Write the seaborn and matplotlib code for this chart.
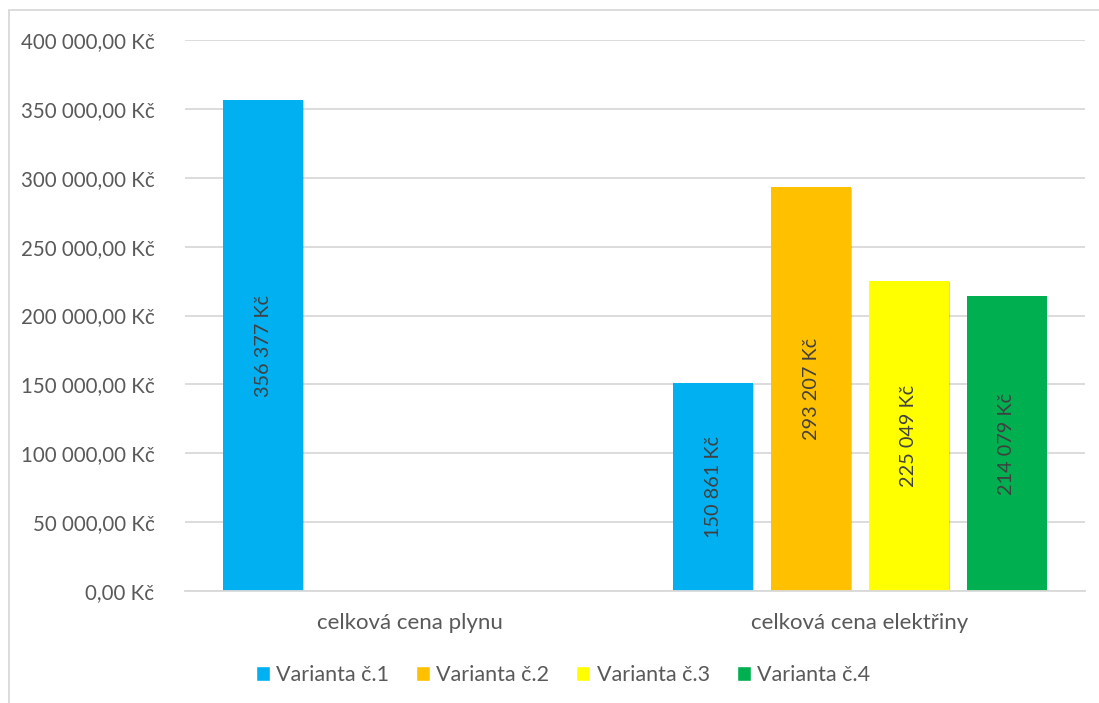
import matplotlib
matplotlib.use("Agg")
import matplotlib.pyplot as plt
import matplotlib.patheffects as pe
from matplotlib.patches import Rectangle, Patch
from matplotlib.ticker import FuncFormatter
import seaborn as sns
import pandas as pd

categories = ["celková cena plynu", "celková cena elektřiny"]
variants = ["Varianta č.1", "Varianta č.2", "Varianta č.3", "Varianta č.4"]
gas_values = [356377, None, None, None]
electricity_values = [150861, 293207, 225049, 214079]
colors = ["#00B0F0", "#FFC000", "#FFFF00", "#00B050"]
y_ticks = [0, 50000, 100000, 150000, 200000, 250000, 300000, 350000, 400000]

rows = []
for cat, vals in zip(categories, [gas_values, electricity_values]):
    for var, v in zip(variants, vals):
        if v is not None:
            rows.append({"kategorie": cat, "varianta": var, "cena": v})
df = pd.DataFrame(rows)

sns.set_theme(style="white")
plt.rcParams["font.family"] = ["Lato", "DejaVu Sans"]

fig = plt.figure(figsize=(10.99, 7.03), dpi=100)
ax = fig.add_axes([185 / 1099, 1 - 591 / 703, 900 / 1099, 551 / 703])

sns.barplot(data=df, x="kategorie", y="cena", hue="varianta",
            order=categories, hue_order=variants, palette=colors,
            width=0.871, gap=0.19, errorbar=None, legend=False, ax=ax,
            saturation=1, linewidth=0)

shadow = [pe.SimplePatchShadow(offset=(0.6, -0.8), shadow_rgbFace="#7f7f7f", alpha=0.35), pe.Normal()]
for cont in ax.containers:
    for bar in cont:
        bar.set_path_effects(shadow)
    labels = [f"{int(round(b.get_height())):,}".replace(",", " ") + " Kč"
              if b.get_height() > 0 else "" for b in cont]
    ax.bar_label(cont, labels=labels, label_type="center", rotation=90,
                 fontsize=14.3, color="#404040")

ax.set_xlim(-0.5, 1.5)
ax.set_ylim(0, 400000)
ax.set_yticks(y_ticks)
ax.yaxis.set_major_formatter(FuncFormatter(
    lambda v, p: f"{v:,.2f}".replace(",", " ").replace(".", ",") + " Kč"))
ax.grid(axis="y", color="#d9d9d9", linewidth=1.3)
ax.set_axisbelow(True)
for s in ["top", "right", "left"]:
    ax.spines[s].set_visible(False)
ax.spines["bottom"].set_color("#d9d9d9")
ax.spines["bottom"].set_linewidth(1.3)
ax.tick_params(axis="y", length=0, pad=22, labelsize=14.8, labelcolor="#595959")
ax.tick_params(axis="x", length=0, pad=16, labelsize=16, labelcolor="#595959")
ax.set_xlabel("")
ax.set_ylabel("")

handles = [Patch(facecolor=c, label=v) for c, v in zip(colors, variants)]
fig.legend(handles=handles, loc="center", bbox_to_anchor=(563 / 1099, 1 - 675 / 703),
           ncol=4, frameon=False, fontsize=15.5, labelcolor="#595959",
           handlelength=0.65, handleheight=0.65, handletextpad=0.3, columnspacing=1.25)

fig.patches.append(Rectangle((9 / 1099, -0.1), 1.2, 1 - 10 / 703 + 0.1,
                             transform=fig.transFigure, fill=False,
                             edgecolor="#d9d9d9", linewidth=1.3))

fig.savefig("out.png", dpi=100, facecolor="white")
